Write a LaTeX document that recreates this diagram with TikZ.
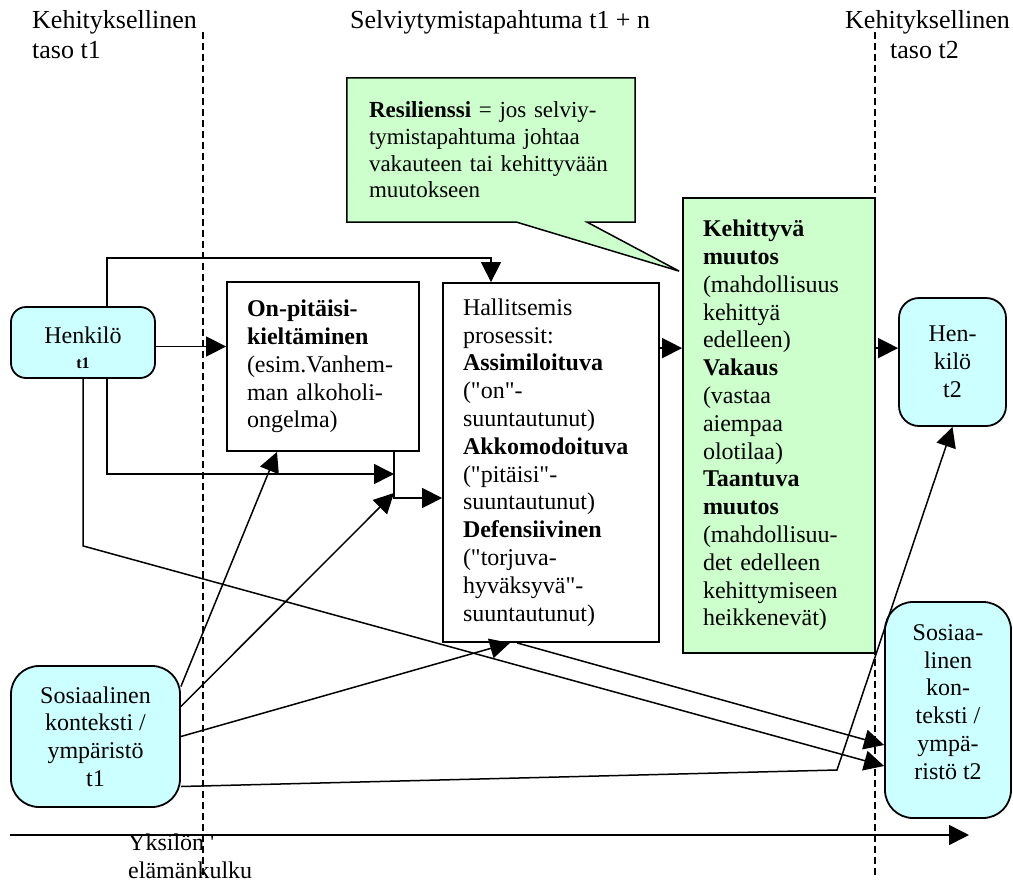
\documentclass[tikz,border=0pt]{standalone}
\usepackage{fontspec}
\setmainfont{Liberation Serif}
\usetikzlibrary{arrows.meta,backgrounds}
\definecolor{paleblue}{HTML}{CCFFFF}
\definecolor{palegreen}{HTML}{CCFFCC}
\tikzset{>={Triangle[length=20pt,width=20pt]}}
\tikzset{
  txt/.style={font=\fontsize{24}{27.8}\selectfont},
  head/.style={font=\fontsize{26}{30}\selectfont, anchor=north west, align=left, inner sep=0pt},
  note/.style={txt, anchor=north west, align=left, inner sep=0pt},
  plainbox/.style={draw, line width=1.8pt, align=left, inner xsep=20pt, txt},
  roundbox/.style={draw, line width=1.8pt, fill=paleblue, rounded corners=#1, align=center, inner sep=0pt, txt},
  link/.style={->, line width=1.5pt},
  levelline/.style={dash pattern=on 7pt off 4pt, line width=1.5pt}
}
\newcommand{\dq}{\textquotedbl}

\begin{document}
\begin{tikzpicture}[x=1pt,y=-1pt]
    \useasboundingbox (0,0) rectangle (1013,884);
    \draw[levelline] (203,32) -- (203,876);
    \draw[levelline] (875,32) -- (875,878);
    \node[head] (lvl1) at (32,10) {Kehityksellinen\\taso t1};
    \node[head] (event) at (350,10) {Selviytymistapahtuma t1 + n};
    \node[head] (lvl2) at (845,10) {Kehityksellinen\\\hspace*{45pt}taso t2};

    \node[roundbox=15pt, minimum width=144pt, minimum height=71pt,
          label={[txt, align=center, yshift=-5pt]center:Henkilö\\[-3pt]{\fontsize{16}{16}\selectfont\bfseries t1}}] (henk1) at (83,342.5) {};
    \node[plainbox, text width=152pt, minimum height=169pt] (onp) at (323,366.5) {\textbf{On-pitäisi-}\\\textbf{kieltäminen}\\(esim.Vanhem-\\man alkoholi-\\ongelma)};
    \node[plainbox, text width=176pt, minimum height=359pt] (hall) at (551,462.5) {Hallitsemis\\prosessit:\\\textbf{Assimiloituva}\\(\dq on\dq -\\suuntautunut)\\\textbf{Akkomodoituva}\\(\dq pitäisi\dq -\\suuntautunut)\\\textbf{Defensiivinen}\\(\dq torjuva-\\hyväksyvä\dq -\\suuntautunut)};
    \node[plainbox, fill=palegreen, text width=152pt, minimum height=455pt] (kehit) at (779,425.5) {\textbf{Kehittyvä}\\\textbf{muutos}\\(mahdollisuus\\kehittyä\\edelleen)\\\textbf{Vakaus}\\(vastaa\\aiempaa\\olotilaa)\\\textbf{Taantuva}\\\textbf{muutos}\\(mahdollisuu-\\det edelleen\\kehittymiseen\\heikkenevät)};
    \node[roundbox=20pt, minimum width=107pt, minimum height=128pt] (henk2) at (952.5,362) {Hen-\\kilö\\t2};
    \node[roundbox=28pt, minimum width=169pt, minimum height=141pt] (sos1) at (95.5,736.5) {Sosiaalinen\\konteksti /\\ympäristö\\t1};
    \node[roundbox=28pt, minimum width=126pt, minimum height=216pt,
          label={[txt, align=center, yshift=8pt]center:Sosiaa-\\linen\\kon-\\teksti /\\ympä-\\ristö t2}] (sos2) at (948,710) {};

    \node[font=\fontsize{23}{26.7}\selectfont, align=left, text width=244pt, minimum height=144pt, inner xsep=22pt] (resil) at (491,150) {\textbf{Resilienssi} = jos selviy-\\tymistapahtuma johtaa\\vakauteen tai kehittyvään\\muutokseen};
    \begin{scope}[on background layer]
    \draw[line width=1.5pt, fill=palegreen] (resil.north west) -- (resil.north east) -- (resil.south east) -- ++(-48,0)
        -- ([xshift=-3pt,yshift=-74pt]kehit.north west) -- ([xshift=170pt]resil.south west) -- (resil.south west) -- cycle;
    \end{scope}

    \coordinate (jn) at (394,498);
    \coordinate (bend) at (837,770);
    \coordinate (row) at ([yshift=-66pt]hall.north east);
    \draw[link] ([yshift=-4pt]henk1.east) -- ([yshift=-4pt]henk1.east -| onp.west);
    \draw[link] ([xshift=24pt]henk1.north) -- ++(0,-48) -| ([xshift=-60pt]hall.north);
    \draw[link] ([xshift=24pt]henk1.south) |- ([yshift=24pt]jn);
    \draw[link] ([xshift=71pt]onp.south) |- (jn -| hall.west);
    \draw[link] (henk1.south) -- ++(0,167) -- ([yshift=-56pt]sos2.west);
    \draw[link] (row) -- (row -| kehit.west);
    \draw[link] (row -| kehit.east) -- (row -| henk2.west);
    \draw[link] ([yshift=50pt]sos1.east) -- ([xshift=-46pt]onp.south);
    \draw[link] ([yshift=30pt]sos1.east) -- ([yshift=5pt]jn);
    \draw[link] (sos1.east) -- ([xshift=-41pt]hall.south);
    \draw[link] ([xshift=-34pt]hall.south) -- ([yshift=-35pt]sos2.west);
    \draw[link] ([yshift=-50pt]sos1.east) -- (bend) -- (henk2.south);

    \coordinate (t0) at (10,835);
    \coordinate (tn) at (969,835);
    \draw[link] (t0) -- (tn);
    \node[note] (life) at (128,834) {Yksilön \textquotesingle\\elämänkulku};
\end{tikzpicture}
\end{document}
